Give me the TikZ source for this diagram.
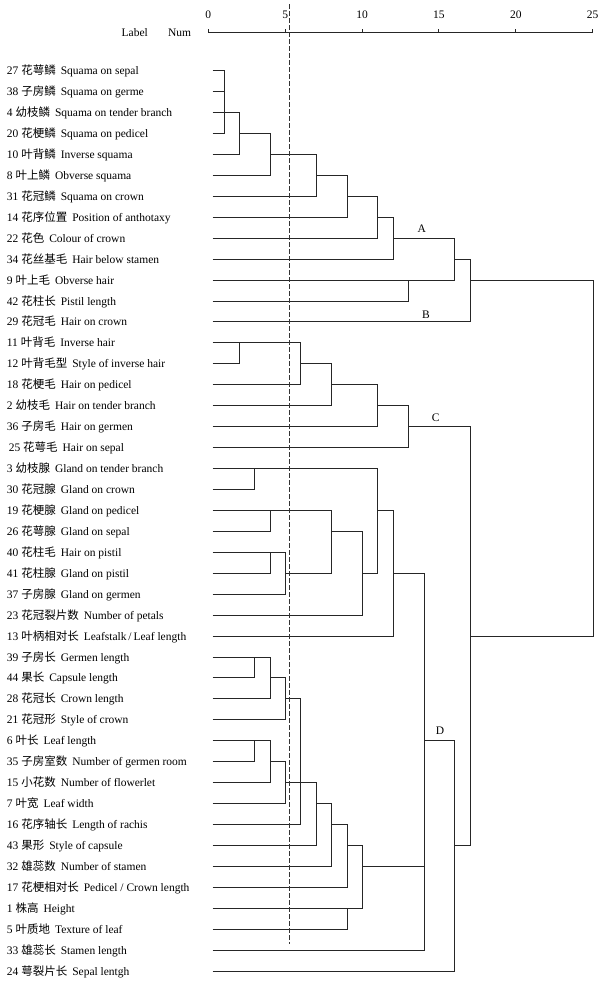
\documentclass[tikz,border=0pt]{standalone}
\usepackage{fontspec}
\setmainfont{Liberation Serif}
\newfontfamily\cjk{Noto Sans CJK SC}

% row positions of the leaves, in px from the top (on pixel centres)
\newcommand{\rowy}[1]{floor(70.7+(#1-1)*20.94)+0.5}
% x of a merge level (text grid of the dendrogram)
\newcommand{\levx}[1]{floor(224+15.4*#1)+0.5}

\tikzset{
	branch/.style={line width=1.4pt, black!85},
	cutline/.style={line width=1.4pt, black!80, dash pattern=on 4.5pt off 2.5pt},
	txt/.style={font=\fontsize{11.5}{13}\selectfont, inner sep=0pt},
	leaflabel/.style={txt, anchor=base west},
}

\begin{document}
\begin{tikzpicture}[x=1pt,y=-1pt]
			\useasboundingbox (0,0) rectangle (610,985);

			% header and scale
			\node[txt, anchor=base] (hlabel) at (134.8,36) {Label};
			\node[txt, anchor=base] (hnum) at (179.5,36) {Num};
			\coordinate (ax0) at (208.5,32.5);
			\coordinate (ax25) at (592.5,32.5);
			\draw[branch] (ax0) -- (ax25);
			\foreach \t in {0,5,...,25}{
				\coordinate (tk\t) at ({floor(208.3+15.376*\t)+0.5},32.5);
				\draw[branch] (tk\t) -- ++(0,-3.5);
				\node[txt, anchor=base] (tl\t) at ({208.3+15.376*\t},18.5) {\t};
			}

			% leaves
			\foreach \idx/\zh/\eng [count=\i] in {
				27/花萼鳞/Squama on sepal,
				38/子房鳞/Squama on germe,
				4/幼枝鳞/Squama on tender branch,
				20/花梗鳞/Squama on pedicel,
				10/叶背鳞/Inverse squama,
				8/叶上鳞/Obverse squama,
				31/花冠鳞/Squama on crown,
				14/花序位置/Position of anthotaxy,
				22/花色/Colour of crown,
				34/花丝基毛/Hair below stamen,
				9/叶上毛/Obverse hair,
				42/花柱长/Pistil length,
				29/花冠毛/Hair on crown,
				11/叶背毛/Inverse hair,
				12/叶背毛型/Style of inverse hair,
				18/花梗毛/Hair on pedicel,
				2/幼枝毛/Hair on tender branch,
				36/子房毛/Hair on germen,
				{\,25}/花萼毛/Hair on sepal,
				3/幼枝腺/Gland on tender branch,
				30/花冠腺/Gland on crown,
				19/花梗腺/Gland on pedicel,
				26/花萼腺/Gland on sepal,
				40/花柱毛/Hair on pistil,
				41/花柱腺/Gland on pistil,
				37/子房腺/Gland on germen,
				23/花冠裂片数/Number of petals,
				13/叶柄相对长/{Leafstalk\,/\,Leaf length},
				39/子房长/Germen length,
				44/果长/Capsule length,
				28/花冠长/Crown length,
				21/花冠形/Style of crown,
				6/叶长/Leaf length,
				35/子房室数/Number of germen room,
				15/小花数/Number of flowerlet,
				7/叶宽/Leaf width,
				16/花序轴长/Length of rachis,
				43/果形/Style of capsule,
				32/雄蕊数/Number of stamen,
				17/花梗相对长/{Pedicel / Crown length},
				1/株高/Height,
				5/叶质地/Texture of leaf,
				33/雄蕊长/Stamen length,
				24/萼裂片长/Sepal lentgh}{
				\node[leaflabel] (lab\i) at (6.7,{\rowy{\i}+4}) {\idx\ {\cjk\zh}\hspace{5pt}\eng};
				\coordinate (l\i) at (212.5,{\rowy{\i}});
			}

			% merge points: name/level/row
			\foreach \c/\k/\r in {
				c1/0/3, c2/1/4, c3/3/5, c4/6/6, c5/8/7, c6/10/8, c7/11/9,
				c8/12/11, c9/15/10, c10/16/11,
				c11/1/14, c12/5/15, c13/7/16, c14/10/17, c15/12/18,
				c16/2/20, c17/3/22, c18/3/24, c19/4/25, c20/7/23, c21/9/25,
				c22/10/22, c23/11/25,
				c24/2/29, c25/3/30, c26/4/31, c27/2/33, c28/3/34, c29/4/35,
				c30/5/35, c31/6/36, c32/7/37, c33/8/38, c34/8/41, c35/9/39,
				c36/13/33, c37/15/38, c38/16/28, root/24/11}
				\coordinate (\c) at ({\levx{\k}},{\rowy{\r}});

			% branches, one path so shared parts are not drawn twice
			\draw[branch] \foreach \a/\b in {
				l1/c1, l2/c1, l3/c1, l4/c1, c1/c2, l5/c2, c2/c3, l6/c3,
				c3/c4, l7/c4, c4/c5, l8/c5, c5/c6, l9/c6, c6/c7, l10/c7,
				l11/c8, l12/c8, c7/c9, c8/c9, c9/c10, l13/c10,
				l14/c11, l15/c11, c11/c12, l16/c12, c12/c13, l17/c13,
				c13/c14, l18/c14, c14/c15, l19/c15,
				l20/c16, l21/c16, l22/c17, l23/c17, l24/c18, l25/c18,
				c18/c19, l26/c19, c17/c20, c19/c20, c20/c21, l27/c21,
				c16/c22, c21/c22, c22/c23, l28/c23,
				l29/c24, l30/c24, c24/c25, l31/c25, c25/c26, l32/c26,
				l33/c27, l34/c27, c27/c28, l35/c28, c28/c29, l36/c29,
				c26/c30, c29/c30, l37/c30, c30/c31, l38/c31, c31/c32, l39/c32,
				c32/c33, l40/c33, l41/c34, l42/c34, c33/c35, c34/c35,
				c23/c36, c35/c36, l43/c36, c36/c37, l44/c37,
				c15/c38, c37/c38, c10/root, c38/root}{(\a) -| (\b)};

			% cut line and groups
			\coordinate (cuttop) at (289.5,4);
			\coordinate (cutbot) at (289.5,944);
			\draw[cutline] (cuttop) -- (cutbot);
			\node[txt] (gA) at (421.7,229) {A};
			\node[txt] (gB) at (426,314.5) {B};
			\node[txt] (gC) at (435.7,417.3) {C};
			\node[txt] (gD) at (440,730.7) {D};
			\end{tikzpicture}
\end{document}
